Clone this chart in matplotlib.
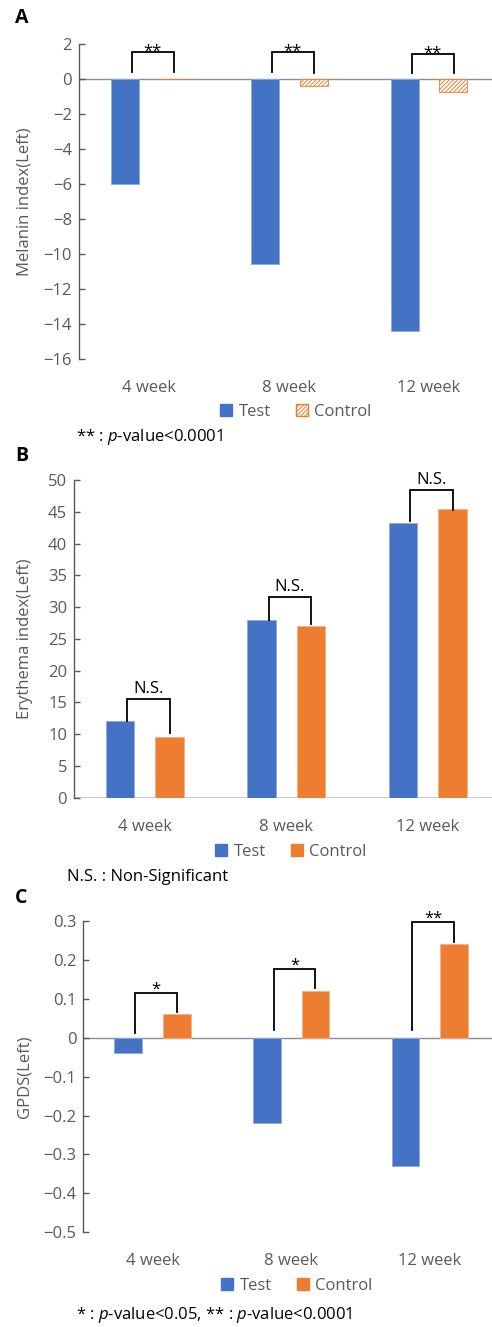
import numpy as np
import matplotlib
matplotlib.use("Agg")
import matplotlib.pyplot as plt
from matplotlib.patches import Patch

plt.rcParams['font.family'] = ['Open Sans', 'DejaVu Sans']
plt.rcParams['mathtext.fontset'] = 'custom'
plt.rcParams['mathtext.it'] = 'Open Sans:italic'
plt.rcParams['mathtext.rm'] = 'Open Sans'
plt.rcParams['hatch.linewidth'] = 0.7

categories = ['4 week', '8 week', '12 week']
series = ['Test', 'Control']

melanin_test = [-6.0, -10.6, -14.4]
melanin_control = [0.0, -0.38, -0.76]
melanin_ticks = [2, 0, -2, -4, -6, -8, -10, -12, -14, -16]
melanin_sig = ['**', '**', '**']
melanin_br_top = [1.56, 1.56, 1.43]
melanin_br_left = [0.4, 0.4, 0.35]
melanin_br_right = [0.4, 0.35, 0.35]

erythema_test = [12.0, 27.9, 43.3]
erythema_control = [9.5, 27.1, 45.5]
erythema_ticks = [0, 5, 10, 15, 20, 25, 30, 35, 40, 45, 50]
erythema_sig = ['N.S.', 'N.S.', 'N.S.']
erythema_br_top = [15.5, 31.6, 48.5]
erythema_br_left = [12.0, 28.0, 43.5]
erythema_br_right = [10.2, 27.3, 45.3]

gpds_test = [-0.04, -0.22, -0.33]
gpds_control = [0.06, 0.12, 0.24]
gpds_ticks = [0.3, 0.2, 0.1, 0, -0.1, -0.2, -0.3, -0.4, -0.5]
gpds_tick_labels = ['0.3', '0.2', '0.1', '0', '\u22120.1', '\u22120.2', '\u22120.3', '\u22120.4', '\u22120.5']
gpds_sig = ['*', '*', '**']
gpds_br_top = [0.116, 0.177, 0.298]
gpds_br_left = [0.013, 0.02, 0.02]
gpds_br_right = [0.065, 0.129, 0.246]

BLUE = '#4472C4'
ORANGE = '#ED7D31'
GRAY = '#595959'
FS = 12

W, H = 492, 1327
fig = plt.figure(figsize=(W / 100, H / 100), dpi=100)


def frac_rect(left_px, top_px, bottom_px):
    return [left_px / W, 1 - bottom_px / H, 1 - left_px / W, (bottom_px - top_px) / H]


def panel(left_px, top_px, bottom_px, test, control, ticks, ticklabels, ylim, ylabel, sig,
          br_top, br_left, br_right, hatch_control, xmax, star_off, label_y_px):
    ax = fig.add_axes(frac_rect(left_px, top_px, bottom_px))
    x = np.arange(len(categories))
    off = 0.175
    w = 0.2
    ax.bar(x - off, test, w, color=BLUE, edgecolor='#8FAADC', linewidth=0.6, zorder=2)
    if hatch_control:
        ax.bar(x + off, control, w, color='white', edgecolor=ORANGE, hatch='////////', linewidth=0.6, zorder=2)
    else:
        ax.bar(x + off, control, w, color=ORANGE, edgecolor='#F4B183', linewidth=0.6, zorder=2)
    ax.axhline(0, color='#8C8C8C', linewidth=1.0, zorder=1)
    ax.set_xlim(-0.5, xmax)
    ax.set_ylim(*ylim)
    ax.set_yticks(ticks)
    ax.set_yticklabels(ticklabels)
    ax.set_xticks([])
    for s in ['top', 'right', 'bottom']:
        ax.spines[s].set_visible(False)
    ax.spines['left'].set_color(GRAY)
    ax.spines['left'].set_linewidth(1.0)
    ax.tick_params(axis='y', direction='in', length=4, width=1.0, color=GRAY,
                   labelcolor=GRAY, labelsize=FS, pad=5)
    ax.set_ylabel(ylabel, color=GRAY, fontsize=FS)
    width_px = W - left_px
    ax.yaxis.set_label_coords((33 - left_px) / width_px, 0.5)
    for i in range(len(categories)):
        xl = i - off + 0.05
        xr = i + off + 0.0
        ax.plot([xl, xl, xr, xr], [br_left[i], br_top[i], br_top[i], br_right[i]],
                color='black', linewidth=1.3, zorder=3, solid_joinstyle='miter')
        ax.text((xl + xr) / 2, br_top[i] + star_off, sig[i], ha='center', va='bottom',
                fontsize=FS, color='black')
    ylab = -(label_y_px - bottom_px) / (bottom_px - top_px)
    for i, c in enumerate(categories):
        ax.text(i, ylab, c, transform=ax.get_xaxis_transform(), ha='center', va='center',
                fontsize=FS, color=GRAY)
    return ax


# Panel A
axA = panel(79, 44, 359, melanin_test, melanin_control, melanin_ticks,
            ['2', '0', '\u22122', '\u22124', '\u22126', '\u22128', '\u221210', '\u221212', '\u221214', '\u221216'],
            (-16, 2), 'Melanin index(Left)', melanin_sig, melanin_br_top, melanin_br_left, melanin_br_right,
            True, 2.45, -0.45, 388)
# Panel B
axB = panel(74, 480, 797.7, erythema_test, erythema_control, erythema_ticks,
            [str(v) for v in erythema_ticks], (0, 50), 'Erythema index(Left)', erythema_sig,
            erythema_br_top, erythema_br_left, erythema_br_right, False, 2.454, 0.3, 827)
axB.axhline(0, color=GRAY, linewidth=1.0, zorder=1)
# Panel C
axC = panel(83.3, 921, 1232.3, gpds_test, gpds_control, gpds_ticks, gpds_tick_labels,
            (-0.5, 0.3), 'GPDS(Left)', gpds_sig, gpds_br_top, gpds_br_left, gpds_br_right,
            False, 2.449, -0.012, 1261)


def legend(yc, xc, hatch):
    handles = [Patch(facecolor=BLUE, edgecolor=BLUE, label=series[0])]
    if hatch:
        handles.append(Patch(facecolor='white', edgecolor=ORANGE, hatch='////////', label=series[1]))
    else:
        handles.append(Patch(facecolor=ORANGE, edgecolor=ORANGE, label=series[1]))
    lg = fig.legend(handles=handles, loc='center', bbox_to_anchor=(xc / W, 1 - yc / H), ncol=2,
                    frameon=False, handlelength=0.7, handleheight=0.7, handletextpad=0.4,
                    columnspacing=1.5, fontsize=FS, borderaxespad=0, borderpad=0)
    for t in lg.get_texts():
        t.set_color(GRAY)


legend(411.7, 296, True)
legend(851.7, 291, False)
legend(1286, 297, False)

for lbl, y in [('A', 18), ('B', 456), ('C', 898)]:
    fig.text(15 / W, 1 - y / H, lbl, fontsize=14, fontweight='bold', ha='left', va='center')

fig.text(76 / W, 1 - 437 / H, '** : $\\it{p}$-value<0.0001', fontsize=FS, ha='left', va='center')
fig.text(66.7 / W, 1 - 877 / H, 'N.S. : Non-Significant', fontsize=FS, ha='left', va='center')
fig.text(76 / W, 1 - 1315 / H, '* : $\\it{p}$-value<0.05, ** : $\\it{p}$-value<0.0001', fontsize=FS,
         ha='left', va='center')

fig.savefig('out.png', dpi=100)
